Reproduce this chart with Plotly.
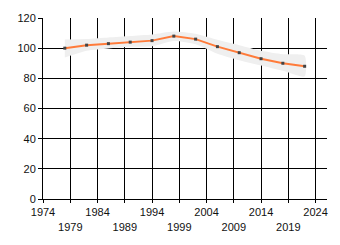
import plotly.graph_objects as go

years = [1978, 1982, 1986, 1990, 1994, 1998, 2002, 2006, 2010, 2014, 2018, 2022]
values = [100, 102, 103, 104, 105, 108, 106, 101, 97, 93, 90, 88]
upper = [105.8, 106, 107, 108, 109, 111, 109.5, 105.5, 102, 98.3, 96, 95]
lower = [93.8, 98.3, 99.8, 100.9, 101.3, 104.8, 102.6, 96.3, 92, 88.5, 85, 81.3]
tick_years = [1974, 1979, 1984, 1989, 1994, 1999, 2004, 2009, 2014, 2019, 2024]
y_ticks = [0, 20, 40, 60, 80, 100, 120]

ticktext = [str(y) if i % 2 == 0 else "<br>" + str(y) for i, y in enumerate(tick_years)]

fig = go.Figure()
fig.add_trace(go.Scatter(x=years + years[::-1], y=upper + lower[::-1],
                         fill="toself", fillcolor="#efefef", mode="lines",
                         line=dict(width=0, color="#efefef", shape="spline", smoothing=0.6),
                         hoverinfo="skip", showlegend=False))
fig.add_trace(go.Scatter(x=years, y=values, mode="lines+markers",
                         line=dict(color="#ff7b3a", width=2),
                         marker=dict(color="#444444", size=3, symbol="square"),
                         showlegend=False))

fig.update_layout(
    width=340, height=245,
    margin=dict(l=43, r=13, t=15, b=46),
    paper_bgcolor="white", plot_bgcolor="white",
    font=dict(family="Liberation Sans, Arial, sans-serif", size=11, color="#111111"),
    xaxis=dict(range=[1974, 2026.1], tickmode="array", tickvals=tick_years, ticktext=ticktext,
               showgrid=True, gridcolor="black", gridwidth=1, zeroline=False,
               showline=True, linecolor="black", linewidth=1,
               ticks="outside", ticklen=3, tickcolor="black"),
    yaxis=dict(range=[0, 120], tickmode="array", tickvals=y_ticks,
               showgrid=True, gridcolor="black", gridwidth=1, zeroline=False,
               showline=True, linecolor="black", linewidth=1,
               ticks="outside", ticklen=4, tickcolor="black"),
)

fig.write_html("out.html")
